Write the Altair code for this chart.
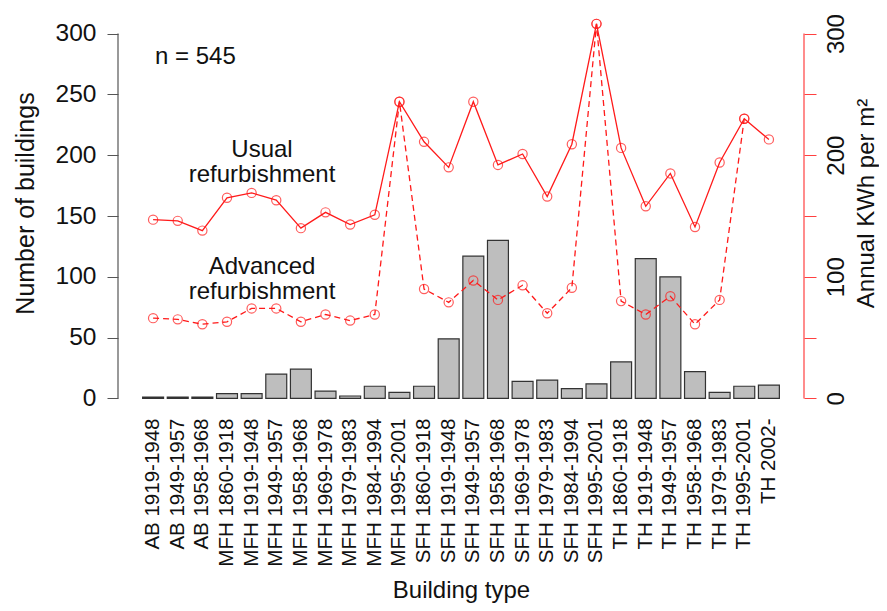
import altair as alt
import pandas as pd

categories = [
    "AB 1919-1948", "AB 1949-1957", "AB 1958-1968",
    "MFH 1860-1918", "MFH 1919-1948", "MFH 1949-1957", "MFH 1958-1968",
    "MFH 1969-1978", "MFH 1979-1983", "MFH 1984-1994", "MFH 1995-2001",
    "SFH 1860-1918", "SFH 1919-1948", "SFH 1949-1957", "SFH 1958-1968",
    "SFH 1969-1978", "SFH 1979-1983", "SFH 1984-1994", "SFH 1995-2001",
    "TH 1860-1918", "TH 1919-1948", "TH 1949-1957", "TH 1958-1968",
    "TH 1979-1983", "TH 1995-2001", "TH 2002-",
]
buildings = [1, 1, 1, 4, 4, 20, 24, 6, 2, 10, 5,
             10, 49, 117, 130, 14, 15, 8, 12,
             30, 115, 100, 22, 5, 10, 11]
usual = [147, 146, 138, 165, 169, 163, 140, 153, 143, 151, 244,
         211, 190, 244, 192, 201, 166, 209, 308,
         206, 158, 185, 141, 194, 230, 213]
advanced = [66, 65, 61, 63, 74, 74, 63, 69, 64, 69, 244,
            90, 79, 97, 81, 93, 70, 91, 308,
            80, 69, 84, 61, 81, 230, None]

df = pd.DataFrame({"type": categories, "buildings": buildings,
                   "usual": usual, "advanced": advanced})

W, H = 686, 394
YDOM = [-12, 312]
FONT = "Liberation Sans"
RED = "#ff1a1a"
TICKS = [0, 50, 100, 150, 200, 250, 300]

xaxis = alt.Axis(title="Building type", labelAngle=270, ticks=False, tickSize=0,
                 domain=False, labelPadding=5, labelFontSize=20.5, labelFont=FONT,
                 labelColor="#111", titleFont=FONT, titleFontSize=24,
                 titleFontWeight="normal", titleColor="#111",
                 titleX=W / 2, titleY=184, titleBaseline="alphabetic",
                 titleAlign="center", grid=False)
xenc = alt.X("type:N", sort=categories,
             scale=alt.Scale(paddingInner=0.15, paddingOuter=1.0), axis=xaxis)

left_axis = alt.Axis(orient="left", values=TICKS, domain=False, tickSize=11,
                     tickColor="#555", labelFontSize=24.5, labelFont=FONT,
                     labelColor="#111", labelPadding=11, grid=False,
                     title="Number of buildings", titleFont=FONT, titleFontSize=25,
                     titleFontWeight="normal", titleColor="#111", titleAngle=270,
                     titleX=-93, titleY=184, titleAlign="center",
                     titleBaseline="middle")
right_axis = alt.Axis(orient="right", values=TICKS, domain=False, tickSize=12,
                      tickColor="#ff4040", labelFontSize=24, labelFont=FONT,
                      labelColor="#111", labelPadding=8, labelAngle=270,
                      labelAlign="center", labelBaseline="top",
                      labelExpr="datum.value % 100 == 0 ? datum.label : ''",
                      grid=False, title="Annual KWh per m²", titleFont=FONT,
                      titleFontSize=24, titleFontWeight="normal",
                      titleColor="#111", titleAngle=270, titleX=69, titleY=184,
                      titleAlign="center", titleBaseline="alphabetic")

yscale = alt.Scale(domain=YDOM, nice=False, zero=False)

base = alt.Chart(df)

bars = base.mark_bar(fill="#bebebe", stroke="#333333", strokeWidth=1.2).encode(
    x=xenc,
    y=alt.Y("buildings:Q", scale=yscale, axis=left_axis),
    y2=alt.datum(0),
)
left_line = alt.Chart(pd.DataFrame({"a": [0]})).mark_rule(color="#555", strokeWidth=1.2).encode(
    x=alt.value(0),
    y=alt.Y(datum=0, scale=yscale, axis=left_axis),
    y2=alt.datum(300),
)


def note(text, x, y, align="center"):
    return alt.Chart(pd.DataFrame({"t": [text]})).mark_text(
        font=FONT, fontSize=24, color="#111", align=align, baseline="middle",
        lineBreak="\n", lineHeight=25,
    ).encode(text="t:N", x=alt.value(x), y=alt.value(y))


notes = [
    note("n = 545", 37, 38, "left"),
    note("Usual\nrefurbishment", 144, 131),
    note("Advanced\nrefurbishment", 144, 248),
]

left_group = alt.layer(bars, left_line, *notes)

u_line = base.mark_line(color=RED, strokeWidth=1.3).encode(
    x=xenc, y=alt.Y("usual:Q", scale=yscale, axis=right_axis))
u_pts = base.mark_point(shape="circle", filled=False, color=RED, size=85,
                        strokeWidth=1.2).encode(
    x=xenc, y=alt.Y("usual:Q", scale=yscale, axis=right_axis))
a_line = base.mark_line(color=RED, strokeWidth=1.3, strokeDash=[6, 4]).encode(
    x=xenc, y=alt.Y("advanced:Q", scale=yscale, axis=right_axis))
a_pts = base.transform_filter("datum.advanced != null").mark_point(
    shape="circle", filled=False, color=RED, size=85, strokeWidth=1.2).encode(
    x=xenc, y=alt.Y("advanced:Q", scale=yscale, axis=right_axis))
right_line = alt.Chart(pd.DataFrame({"a": [0]})).mark_rule(color="#ff4040", strokeWidth=1.2).encode(
    x=alt.value(W),
    y=alt.Y(datum=0, scale=yscale, axis=right_axis),
    y2=alt.datum(300),
)

right_group = alt.layer(u_line, u_pts, a_line, a_pts, right_line)

chart = alt.layer(left_group, right_group).resolve_scale(y="independent").properties(
    width=W, height=H,
    autosize=alt.AutoSizeParams(type="none"),
    padding={"left": 110, "top": 11, "right": 75, "bottom": 190},
    background="white",
).configure_view(stroke=None)

chart.save("out.html", embed_options={"renderer": "svg", "actions": False})
